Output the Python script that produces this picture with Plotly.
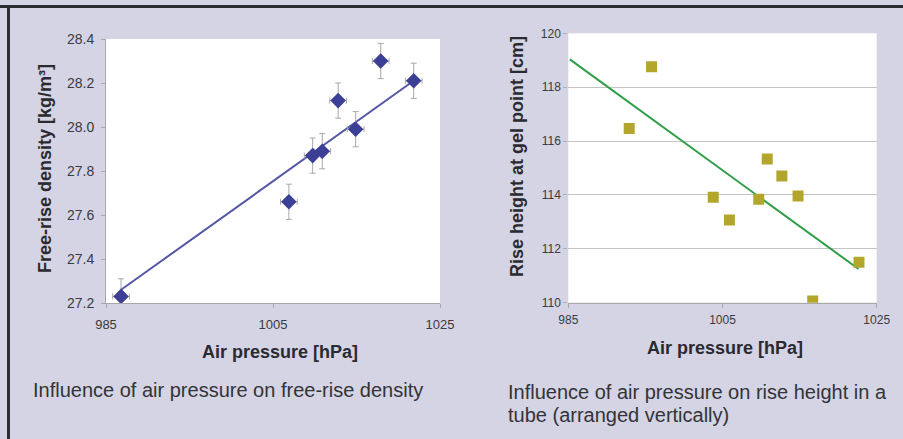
import plotly.graph_objects as go

W, H = 903, 439

# ---- left chart data: free-rise density vs air pressure ----
density_pressure = [986.8, 1006.9, 1009.75, 1010.9, 1012.8, 1014.9, 1017.9, 1021.85]
density_values = [27.23, 27.66, 27.87, 27.89, 28.12, 27.99, 28.30, 28.21]
density_err_y = [0.08, 0.08, 0.08, 0.08, 0.08, 0.08, 0.08, 0.08]
density_err_x = [1.0, 1.0, 1.0, 1.0, 1.0, 1.0, 1.0, 1.0]
density_trend_x = [986.8, 1021.85]
density_trend_y = [27.26, 28.21]

# ---- right chart data: rise height vs air pressure ----
rise_pressure = [992.9, 995.8, 1003.8, 1005.9, 1009.7, 1010.8, 1012.7, 1014.8, 1016.7, 1022.7]
rise_values = [116.47, 118.76, 113.91, 113.07, 113.84, 115.33, 114.70, 113.96, 110.06, 111.5]
rise_trend_x = [985.2, 1022.65]
rise_trend_y = [119.03, 111.25]

x_ticks = [985, 1005, 1025]
left_y_ticks = [27.2, 27.4, 27.6, 27.8, 28.0, 28.2, 28.4]
right_y_ticks = [110, 112, 114, 116, 118, 120]

FONT = "Liberation Sans, Arial, Helvetica, sans-serif"
BG = "#d4d4e4"
TXT = "#2a2a30"
TICK = "#3a3a40"

def px_x(p):
    return p / W

def px_y(p):
    return 1 - p / H

fig = go.Figure()

# left chart
fig.add_trace(go.Scatter(
    x=density_trend_x, y=density_trend_y, mode="lines",
    line=dict(color="#5457a6", width=2), xaxis="x", yaxis="y", showlegend=False))
fig.add_trace(go.Scatter(
    x=density_pressure, y=density_values, mode="markers",
    marker=dict(symbol="diamond", size=12, color="#3c3f96"),
    error_y=dict(type="data", array=density_err_y, color="#a8a8a8", thickness=1, width=3),
    error_x=dict(type="data", array=density_err_x, color="#a8a8a8", thickness=1, width=3),
    xaxis="x", yaxis="y", showlegend=False))

# right chart
fig.add_trace(go.Scatter(
    x=rise_trend_x, y=rise_trend_y, mode="lines",
    line=dict(color="#2e9e48", width=2), xaxis="x2", yaxis="y2", showlegend=False))
fig.add_trace(go.Scatter(
    x=rise_pressure, y=rise_values, mode="markers",
    marker=dict(symbol="square", size=11, color="#b3a62c"),
    xaxis="x2", yaxis="y2", showlegend=False))

axis_common = dict(showline=True, linecolor="#a8a8a8", linewidth=1, ticks="outside",
                   ticklen=4, tickcolor="#a8a8a8", showgrid=False, zeroline=False,
                   fixedrange=True, automargin=False)

fig.update_layout(
    template="none",
    width=W, height=H, margin=dict(l=0, r=0, t=0, b=0, pad=0, autoexpand=False),
    paper_bgcolor=BG, plot_bgcolor="white", showlegend=False,
    font=dict(family=FONT, color=TXT),
    xaxis=dict(domain=[px_x(106), px_x(440)], range=[985, 1025], tickvals=x_ticks,
               tickfont=dict(size=13, color=TICK), ticklabelstandoff=5, anchor="y",
               **axis_common),
    yaxis=dict(domain=[px_y(303), px_y(39)], range=[27.2, 28.4], tickvals=left_y_ticks,
               tickformat=".1f", tickfont=dict(size=14, color=TICK), ticklabelstandoff=4,
               anchor="x", **axis_common),
    xaxis2=dict(domain=[px_x(568.3), px_x(876.7)], range=[985, 1025], tickvals=x_ticks,
                tickfont=dict(size=12, color=TICK), ticklabelstandoff=2, anchor="y2",
                **axis_common),
    yaxis2=dict(domain=[px_y(302.7), px_y(33.3)], range=[110, 120], tickvals=right_y_ticks,
                tickfont=dict(size=12, color=TICK), ticklabelstandoff=0, anchor="x2",
                showline=False, ticks="outside",
                ticklen=4, tickcolor="#b0b0b0", showgrid=True, gridcolor="#c4c4c4",
                gridwidth=1, zeroline=False, fixedrange=True, automargin=False),
)

# frame (dark top and left border)
fig.add_shape(type="rect", xref="paper", yref="paper", x0=0, x1=1,
              y0=px_y(8), y1=px_y(5), fillcolor="#2b2e33", line_width=0, layer="above")
fig.add_shape(type="rect", xref="paper", yref="paper", x0=px_x(7), x1=px_x(10),
              y0=0, y1=px_y(5), fillcolor="#2b2e33", line_width=0, layer="above")

BOLD = dict(size=18, color=TXT, family=FONT, weight="bold")
CAP = dict(size=20, color="#333338", family=FONT)
annotations = [
    dict(text="Free-rise density [kg/m³]", x=px_x(45), y=px_y(169), textangle=-90, font=BOLD),
    dict(text="Air pressure [hPa]", x=px_x(280), y=px_y(352), font=BOLD),
    dict(text="Rise height at gel point [cm]", x=px_x(517), y=px_y(157), textangle=-90, font=BOLD),
    dict(text="Air pressure [hPa]", x=px_x(725), y=px_y(348), font=BOLD),
    dict(text="Influence of air pressure on free-rise density", x=px_x(31), y=px_y(390),
         xanchor="left", font=CAP),
    dict(text="Influence of air pressure on rise height in a", x=px_x(506), y=px_y(392),
         xanchor="left", font=CAP),
    dict(text="tube (arranged vertically)", x=px_x(506), y=px_y(415),
         xanchor="left", font=CAP),
]
for a in annotations:
    a.setdefault("xanchor", "center")
    fig.add_annotation(xref="paper", yref="paper", showarrow=False, yanchor="middle", **a)

fig.write_html("out.html")
